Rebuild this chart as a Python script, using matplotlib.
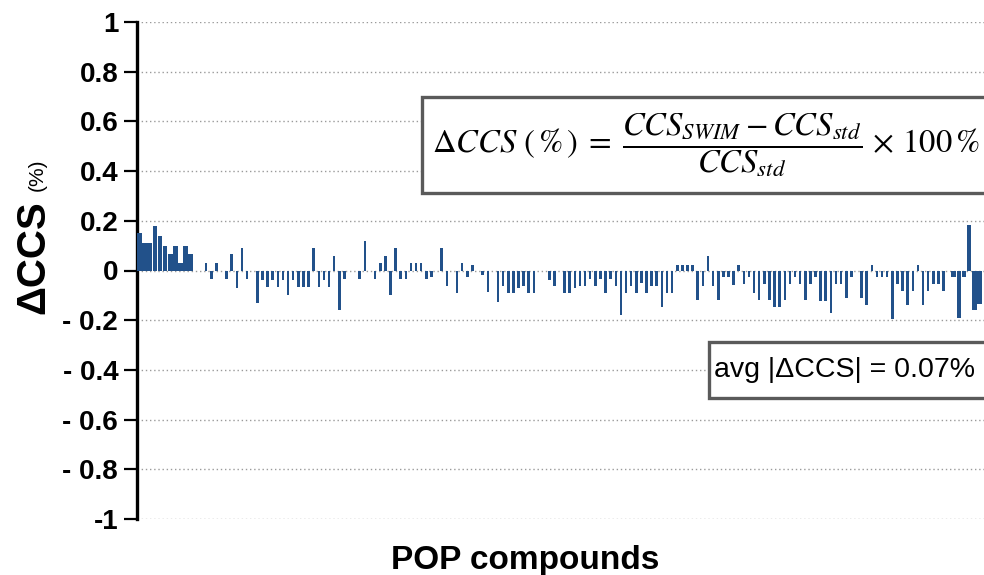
import numpy as np
import matplotlib
matplotlib.use("Agg")
import matplotlib.pyplot as plt
from matplotlib.patches import Rectangle

# ---------------- data ----------------
delta_ccs = [
    0.15, 0.11, 0.11, 0.18, 0.14, 0.10, 0.065, 0.10, 0.03, 0.10, 0.065,
    0, 0, 0.03, -0.036, 0.03, 0, -0.036, 0.065, -0.07, 0.092, -0.036, 0,
    -0.13, -0.04, -0.065, -0.04, -0.065, -0.04, -0.097, -0.04, -0.065, -0.065, -0.065,
    0.092, -0.065, -0.04, -0.065, 0.058, -0.16, -0.036, 0, 0, -0.036, 0.12, 0,
    -0.036, 0.03, 0.058, -0.097, 0.092, -0.036, -0.036, 0.03, 0.03, 0.03, -0.036, -0.027,
    0, 0.092, -0.064, 0, -0.09, 0.03, -0.027, 0.022, 0,
    -0.018, -0.085, 0, -0.126, -0.062, -0.092, -0.092, -0.072, -0.062, -0.092, -0.092, 0, 0,
    -0.038, -0.062, 0, -0.092, -0.092, -0.072, -0.062, -0.062, -0.035, -0.064, -0.036,
    -0.09, -0.036, -0.064, -0.18, -0.09, -0.064, -0.09, -0.05, -0.09,
    -0.064, -0.064, -0.145, -0.09, -0.09,
    0.022, 0.022, 0.022, 0.022,
    -0.12, -0.064, 0.058, -0.064, -0.118, -0.027, -0.027, -0.057, 0.024, -0.054, -0.027,
    -0.09, -0.12, -0.054, -0.12, -0.145, -0.145, -0.12, -0.054, -0.027, -0.054, -0.12,
    -0.054, -0.027,
    -0.122, -0.122, -0.17, -0.054, -0.054, -0.11, -0.027, 0, -0.11, -0.14, 0.024,
    -0.027, -0.027, -0.027, -0.195, -0.054, -0.084, -0.14, -0.084, 0.024, -0.14,
    -0.084, -0.054, -0.054, -0.084, 0, -0.027, -0.19, -0.027, 0.184, -0.16, -0.135,
]
y_ticks = [1, 0.8, 0.6, 0.4, 0.2, 0, -0.2, -0.4, -0.6, -0.8, -1]
y_tick_labels = ["1", "0.8", "0.6", "0.4", "0.2", "0", "- 0.2", "- 0.4", "- 0.6", "- 0.8", "-1"]
x_label = "POP compounds"
y_label_main = "ΔCCS"
y_label_unit = "(%)"
formula = (r"$\Delta CCS\ (\,\%\,)\;=\;\dfrac{CCS_{SWIM} - CCS_{std}}{CCS_{std}}"
           r"\,\times\,100\,\%$")
avg_text = "avg |ΔCCS| = 0.07%"

# ---------------- figure ----------------
W, H = 984, 575
plt.rcParams["mathtext.fontset"] = "stix"
fig = plt.figure(figsize=(W / 100, H / 100), dpi=100)

def fx(x):
    return x / W

def fy(y):
    return 1 - y / H

ax_left, ax_top, ax_bottom = 137, 22, 519
ax = fig.add_axes([fx(ax_left), fy(ax_bottom), 1 - fx(ax_left), fy(ax_top) - fy(ax_bottom)])

n = len(delta_ccs)
idx = np.arange(n)
widths = np.full(n, 0.5)
widths[:11] = 0.9
widths[-6:] = 0.9
ax.bar(idx, delta_ccs, width=widths, color="#22518a", edgecolor="none", zorder=3)

ax.set_xlim(-0.5, 164.9)
ax.set_ylim(-1, 1)
ax.set_yticks(y_ticks)
ax.set_yticklabels(y_tick_labels, fontsize=20, fontweight="bold", family="Liberation Sans")
ax.set_xticks([])
ax.tick_params(axis="y", length=9.5, width=1.6, pad=4, color="black")
for s in ["top", "right", "bottom"]:
    ax.spines[s].set_visible(False)
ax.spines["left"].set_linewidth(2.4)
ax.yaxis.grid(True, linestyle=(0, (1, 2)), color="#9a9a9a", linewidth=1.0, zorder=0)
ax.set_axisbelow(True)

# axis labels
fig.text(fx(33), fy(257), y_label_main, rotation=90, ha="center", va="center",
         fontsize=29, fontweight="bold", family="Liberation Sans")
fig.text(fx(37), fy(175), y_label_unit, rotation=90, ha="center", va="center",
         fontsize=15, family="Liberation Sans")
fig.text(fx(525), fy(569), x_label, ha="center", va="baseline",
         fontsize=24, fontweight="bold", family="Liberation Sans")

# formula box
fig.patches.append(Rectangle((fx(422), fy(193)), fx(600), fy(97) - fy(193),
                             transform=fig.transFigure, facecolor="white",
                             edgecolor="#5a5a5a", linewidth=2.4, zorder=5))
fig.text(fx(432), fy(145), formula, ha="left", va="center", fontsize=23.5, zorder=6)

# avg box
fig.patches.append(Rectangle((fx(709), fy(398)), fx(300), fy(342) - fy(398),
                             transform=fig.transFigure, facecolor="white",
                             edgecolor="#5a5a5a", linewidth=2.4, zorder=5))
fig.text(fx(714), fy(370), avg_text, ha="left", va="center", fontsize=20.5,
         family="Liberation Sans", zorder=6)

fig.savefig("out.png", dpi=100)
